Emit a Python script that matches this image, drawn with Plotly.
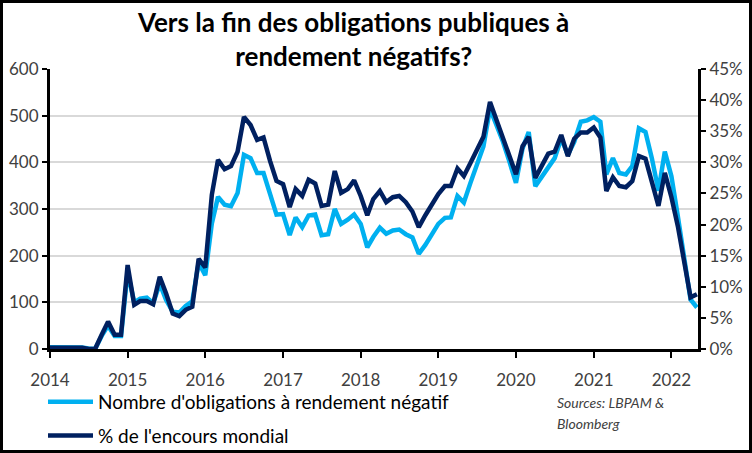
import pandas as pd
import plotly.graph_objects as go

# Monthly data, Jan 2014 -> May 2022
dates = pd.date_range("2014-01-01", periods=101, freq="MS")

nombre_obligations = [
    4, 4, 4, 3, 5, 3, 1, 0, 28, 50, 28, 28,
    165, 100, 108, 110, 98, 140, 105, 80, 78, 92, 102, 185,
    158, 269, 326, 309, 306, 334, 416, 409, 377, 377, 332, 288,
    289, 244, 282, 261, 286, 288, 244, 246, 300, 268, 277, 288,
    268, 218, 240, 260, 247, 254, 256, 246, 239, 204, 223, 244,
    268, 281, 282, 328, 314, 356, 395, 434, 515, 483, 444, 402,
    356, 430, 465, 349, 370, 392, 409, 451, 416, 444, 487, 490,
    497, 487, 374, 409, 377, 374, 392, 473, 465, 409, 339, 423,
    370, 282, 191, 106, 89,
]

pct_encours = [
    0.2, 0.2, 0.2, 0.2, 0.2, 0.2, 0.0, 0.0, 2.3, 4.4, 2.3, 2.3,
    13.5, 7.1, 7.7, 7.7, 7.2, 11.6, 8.9, 5.7, 5.3, 6.3, 6.8, 14.5,
    13.1, 24.8, 30.4, 28.9, 29.4, 31.7, 37.3, 36.0, 33.6, 34.0, 30.2, 27.0,
    26.5, 22.8, 25.7, 24.6, 27.2, 26.6, 23.0, 23.2, 28.6, 25.1, 25.7, 27.1,
    24.6, 21.5, 24.1, 25.4, 23.6, 24.4, 24.6, 23.6, 22.1, 19.6, 21.5, 23.2,
    24.9, 26.2, 26.2, 29.0, 27.8, 29.9, 32.0, 34.1, 39.7, 36.8, 33.6, 30.7,
    28.1, 32.6, 34.1, 27.5, 29.6, 31.4, 31.7, 34.4, 31.0, 33.8, 34.8, 34.8,
    35.6, 34.0, 25.4, 27.6, 26.2, 26.0, 27.0, 31.0, 30.6, 26.7, 23.0, 28.3,
    24.4, 19.6, 13.8, 8.3, 8.8,
]

year_ticks = [f"{y}-01-01" for y in range(2014, 2023)]
year_labels = [str(y) for y in range(2014, 2023)]
left_ticks = [0, 100, 200, 300, 400, 500, 600]
right_ticks = [0, 5, 10, 15, 20, 25, 30, 35, 40, 45]
right_labels = [f"{v}%" for v in right_ticks]

title_text = "Vers la fin des obligations publiques à<br>rendement négatifs?"
source_line1 = "Sources: LBPAM &amp;"
source_line2 = "Bloomberg"

LIGHT = "#00B0F0"
DARK = "#002060"
FONT = "Lato, sans-serif"
TICKCOL = "#404040"

W, H = 752, 453
# plot area in pixels
L, R, T, B = 50, 698, 69, 349
PW, PH = R - L, B - T


def px(xp):
    return (xp - L) / PW


def py(yp):
    return (B - yp) / PH


fig = go.Figure()
fig.add_trace(go.Scatter(
    x=dates, y=nombre_obligations, mode="lines",
    name="Nombre d'obligations à rendement négatif",
    line=dict(color=LIGHT, width=4.5), legendgroup="a",
))
fig.add_trace(go.Scatter(
    x=dates, y=pct_encours, mode="lines", yaxis="y2",
    name="% de l'encours mondial",
    line=dict(color=DARK, width=4.5), legendgroup="b",
))

axis_common = dict(
    showline=True, linecolor="black", linewidth=3,
    ticks="outside", tickwidth=2, tickcolor="black",
    tickfont=dict(size=17, color=TICKCOL), automargin=False,
)

fig.update_layout(
    width=W, height=H,
    margin=dict(l=L, r=W - R, t=T, b=H - B, autoexpand=False),
    paper_bgcolor="white", plot_bgcolor="white",
    font=dict(family=FONT, size=17, color=TICKCOL),
    xaxis=dict(
        type="date", range=["2014-01-01", "2022-05-06"],
        tickvals=year_ticks, ticktext=year_labels,
        showgrid=False, ticklen=6, ticklabelstandoff=8,
        **axis_common,
    ),
    yaxis=dict(
        range=[0, 600], tickvals=left_ticks,
        showgrid=True, gridcolor="#D9D9D9", gridwidth=2,
        ticklen=5, zeroline=False, **axis_common,
    ),
    yaxis2=dict(
        range=[0, 45], tickvals=right_ticks, ticktext=right_labels,
        overlaying="y", side="right", showgrid=False,
        ticklen=5, zeroline=False, **axis_common,
    ),
    legend=dict(
        xref="container", yref="container",
        x=43 / W, xanchor="left", y=1 - 383 / H, yanchor="top",
        orientation="v", traceorder="grouped", tracegroupgap=6,
        itemwidth=45,
        font=dict(family=FONT, size=19, color="black"), bgcolor="rgba(0,0,0,0)",
    ),
    showlegend=True,
)

# title (two centred lines)
fig.add_annotation(
    text=f"<b>{title_text}</b>", xref="paper", yref="paper",
    x=px(353), y=py(39), xanchor="center", yanchor="middle", showarrow=False,
    align="center", font=dict(family=FONT, size=26, color="black"),
)

# sources note
fig.add_annotation(
    text=f"<i>{source_line1}</i>", xref="paper", yref="paper",
    x=px(555), y=py(402), xanchor="left", yanchor="middle", showarrow=False,
    font=dict(family=FONT, size=14, color=TICKCOL),
)
fig.add_annotation(
    text=f"<i>{source_line2}</i>", xref="paper", yref="paper",
    x=px(555), y=py(423), xanchor="left", yanchor="middle", showarrow=False,
    font=dict(family=FONT, size=14, color=TICKCOL),
)

# outer frame
fig.add_shape(
    type="rect", xref="paper", yref="paper",
    x0=px(1.5), x1=px(750.5), y0=py(451.5), y1=py(1.5),
    line=dict(color="black", width=3), fillcolor="rgba(0,0,0,0)", layer="above",
)

fig.write_html(
    "out.html",
    config={"displayModeBar": False},
    post_script="document.body.style.margin='0';document.body.style.overflow='hidden';",
)
